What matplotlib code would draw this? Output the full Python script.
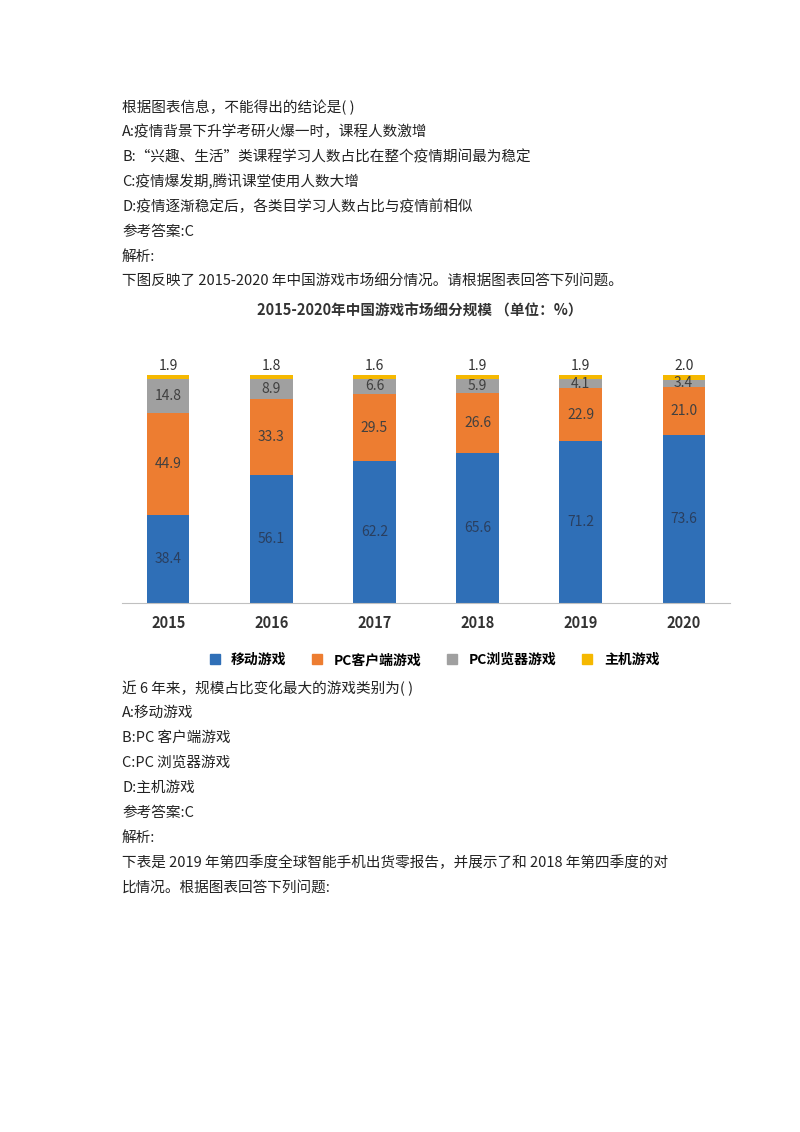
import matplotlib
matplotlib.use("Agg")
import matplotlib.pyplot as plt
from matplotlib.lines import Line2D

plt.rcParams['font.family'] = ['Noto Sans CJK SC', 'DejaVu Sans']

years = ["2015", "2016", "2017", "2018", "2019", "2020"]
mobile = [38.4, 56.1, 62.2, 65.6, 71.2, 73.6]
pc_client = [44.9, 33.3, 29.5, 26.6, 22.9, 21.0]
pc_browser = [14.8, 8.9, 6.6, 5.9, 4.1, 3.4]
console = [1.9, 1.8, 1.6, 1.9, 1.9, 2.0]
series_names = ["移动游戏", "PC客户端游戏", "PC浏览器游戏", "主机游戏"]
colors = ["#2f6fb7", "#ed7d31", "#a0a0a0", "#f5b800"]

text_top = [
    "根据图表信息，不能得出的结论是( )",
    "A:疫情背景下升学考研火爆一时，课程人数激增",
    "B:“兴趣、生活”类课程学习人数占比在整个疫情期间最为稳定",
    "C:疫情爆发期,腾讯课堂使用人数大增",
    "D:疫情逐渐稳定后，各类目学习人数占比与疫情前相似",
    "参考答案:C",
    "解析:",
    "下图反映了 2015-2020 年中国游戏市场细分情况。请根据图表回答下列问题。",
]
text_bottom = [
    "近 6 年来，规模占比变化最大的游戏类别为( )",
    "A:移动游戏",
    "B:PC 客户端游戏",
    "C:PC 浏览器游戏",
    "D:主机游戏",
    "参考答案:C",
    "解析:",
    "下表是 2019 年第四季度全球智能手机出货零报告，并展示了和 2018 年第四季度的对",
    "比情况。根据图表回答下列问题:",
]

W, H = 800, 1132
fig = plt.figure(figsize=(W / 100, H / 100), dpi=100)

for i, t in enumerate(text_top):
    fig.text(122 / W, 1 - (107 + 25 * i) / H, t, fontsize=10.5, color="#222222", va="center")
for i, t in enumerate(text_bottom):
    fig.text(122 / W, 1 - (688 + 25 * i) / H, t, fontsize=10.5, color="#222222", va="center")

fig.text(420 / W, 1 - 311 / H, "2015-2020年中国游戏市场细分规模 （单位：%）", fontsize=10.5,
         fontweight="bold", color="#333333", ha="center", va="center")

ax = fig.add_axes([122 / W, 1 - 603 / H, 608 / W, 228 / H])
x = list(range(len(years)))
bottom = [0] * len(years)
for vals, c in zip([mobile, pc_client, pc_browser, console], colors):
    ax.bar(x, vals, width=0.41, bottom=bottom, color=c)
    bottom = [b + v for b, v in zip(bottom, vals)]

def lab(vals, base, col="#404040"):
    for xi, v, b in zip(x, vals, base):
        ax.text(xi, b + v / 2, f"{v:.1f}", ha="center", va="center", fontsize=10, color=col)

lab(mobile, [0] * 6, "#2a3f5f")
lab(pc_client, mobile)
b2 = [a + b for a, b in zip(mobile, pc_client)]
lab(pc_browser, b2)
for xi, v in zip(x, console):
    ax.text(xi, 104, f"{v:.1f}", ha="center", va="center", fontsize=10, color="#333333")

ax.set_xlim(-0.45, 5.45)
ax.set_ylim(0, 100)
ax.set_yticks([])
ax.set_xticks(x)
ax.set_xticklabels(years, fontsize=10.5, fontweight="bold", color="#333333")
ax.tick_params(axis="x", length=0, pad=9)
for s in ["top", "right", "left"]:
    ax.spines[s].set_visible(False)
ax.spines["bottom"].set_color("#c0c0c0")

handles = [Line2D([], [], marker="s", linestyle="", color=c, markersize=7) for c in colors]
fig.legend(handles, series_names, loc="center", bbox_to_anchor=(430 / W, 1 - 660 / H), ncol=4,
           frameon=False, prop={"size": 10, "weight": "bold"}, handletextpad=0.2, columnspacing=1.2)

fig.savefig("out.png", dpi=100, facecolor="white")
